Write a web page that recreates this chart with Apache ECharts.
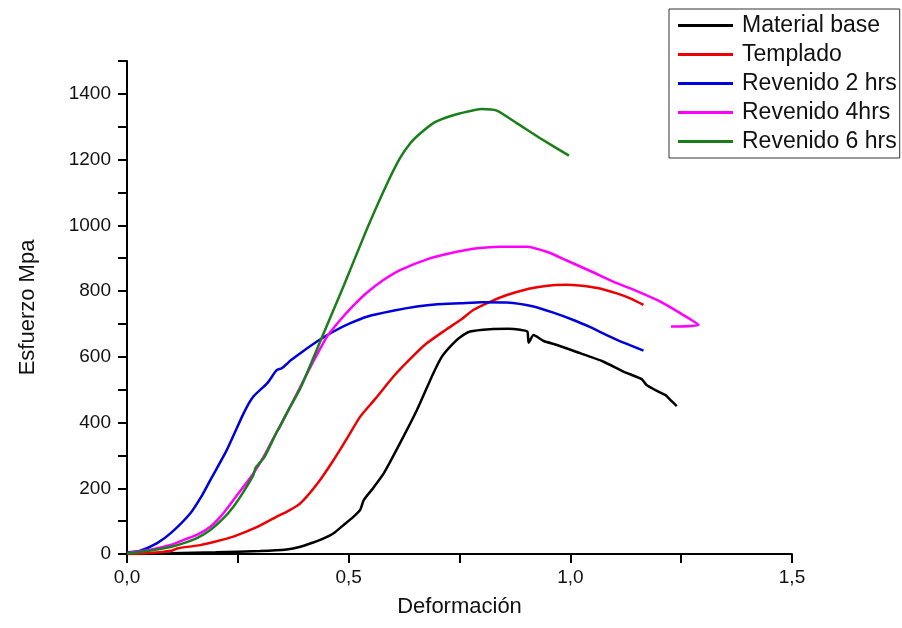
<!DOCTYPE html>
<html>
<head>
<meta charset="utf-8">
<script src="https://cdn.jsdelivr.net/npm/echarts@6/dist/echarts.min.js"></script>
<style>html,body{margin:0;padding:0;background:#fff;}#c{width:902px;height:628px;}</style>
</head>
<body>
<div id="c"></div>
<script>
var seriesNames = ['Material base', 'Templado', 'Revenido 2 hrs', 'Revenido 4hrs', 'Revenido 6 hrs'];

var baseX = [0, 0.1, 0.2, 0.3, 0.36, 0.391, 0.42, 0.44, 0.466, 0.49, 0.51, 0.526, 0.534, 0.555, 0.579, 0.615, 0.654, 0.691, 0.71, 0.729, 0.75, 0.774, 0.819, 0.86, 0.887, 0.903, 0.906, 0.917, 0.94, 0.97, 1.022, 1.075, 1.12, 1.161, 1.172, 1.19, 1.214, 1.225, 1.24];
var baseY = [0, 2, 5, 9, 14, 22, 35, 45, 63, 90, 112, 134, 164, 200, 245, 335, 438, 550, 600, 631, 658, 677, 684, 685, 682, 677, 643, 666, 648, 636, 611, 585, 555, 532, 514, 500, 484, 470, 450];

var templX = [0, 0.05, 0.1, 0.113, 0.165, 0.2, 0.24, 0.29, 0.338, 0.36, 0.391, 0.43, 0.466, 0.5, 0.526, 0.56, 0.601, 0.64, 0.676, 0.72, 0.752, 0.782, 0.82, 0.857, 0.9, 0.932, 0.96, 0.992, 1.02, 1.044, 1.075, 1.105, 1.135, 1.165];
var templY = [0, 3, 10, 17, 27, 38, 53, 80, 114, 128, 154, 215, 286, 360, 418, 472, 540, 595, 641, 683, 712, 743, 768, 788, 805, 813, 818, 819, 817, 813, 805, 793, 778, 758];

var rev2X = [0, 0.03, 0.068, 0.1, 0.143, 0.17, 0.188, 0.225, 0.263, 0.285, 0.316, 0.338, 0.349, 0.37, 0.391, 0.43, 0.466, 0.5, 0.541, 0.6, 0.654, 0.7, 0.752, 0.8, 0.857, 0.917, 0.96, 1.007, 1.045, 1.082, 1.12, 1.165];
var rev2Y = [5, 10, 33, 65, 124, 180, 225, 316, 428, 479, 519, 560, 565, 590, 611, 648, 677, 700, 722, 740, 753, 760, 763, 766, 765, 753, 735, 712, 690, 666, 643, 619];

var rev4X = [0, 0.05, 0.1, 0.128, 0.16, 0.188, 0.215, 0.24, 0.263, 0.285, 0.31, 0.338, 0.365, 0.391, 0.42, 0.451, 0.481, 0.51, 0.541, 0.58, 0.616, 0.68, 0.729, 0.79, 0.842, 0.902, 0.95, 0.992, 1.05, 1.105, 1.15, 1.2, 1.245, 1.289, 1.227];
var rev4Y = [3, 12, 28, 43, 60, 83, 120, 164, 205, 245, 300, 372, 440, 509, 585, 661, 712, 755, 795, 835, 864, 898, 915, 930, 935, 935, 918, 893, 858, 824, 800, 770, 735, 697, 692];

var rev6X = [0, 0.05, 0.1, 0.128, 0.16, 0.188, 0.215, 0.24, 0.263, 0.285, 0.29, 0.31, 0.338, 0.342, 0.365, 0.391, 0.44, 0.49, 0.54, 0.586, 0.616, 0.639, 0.66, 0.691, 0.72, 0.752, 0.8, 0.834, 0.879, 0.932, 0.997];
var rev6Y = [2, 10, 22, 33, 50, 73, 105, 144, 190, 240, 262, 295, 372, 380, 440, 504, 660, 820, 985, 1125, 1205, 1250, 1278, 1311, 1328, 1341, 1354, 1349, 1311, 1265, 1212];

var xTickLabels = ['0,0', '0,5', '1,0', '1,5'];
var yTickLabels = ['0', '200', '400', '600', '800', '1000', '1200', '1400'];

var colors = ['#000000', '#ee0000', '#0000dd', '#ff00ff', '#1a7f1a'];
var xs = [baseX, templX, rev2X, rev4X, rev6X];
var ys = [baseY, templY, rev2Y, rev4Y, rev6Y];

function zip(a, b) { var o = []; for (var i = 0; i < a.length; i++) o.push([a[i], b[i]]); return o; }

var FONT = '"Liberation Sans", Arial, sans-serif';
var series = seriesNames.map(function (n, i) {
  return {
    name: n, type: 'line', data: zip(xs[i], ys[i]), showSymbol: false, symbol: 'none',
    smooth: 0.2, lineStyle: { color: colors[i], width: 2.5 }, itemStyle: { color: colors[i] }
  };
});

var chart = echarts.init(document.getElementById('c'), null, { renderer: 'canvas' });
chart.setOption({
  animation: false,
  backgroundColor: '#ffffff',
  grid: { left: 127, right: 110, top: 61, bottom: 74, containLabel: false },
  legend: {
    data: seriesNames, orient: 'vertical', left: 669, top: 9,
    icon: 'rect', itemWidth: 55, itemHeight: 3, itemGap: 6,
    padding: [5, 3, 5, 9], borderColor: '#333', borderWidth: 1,
    textStyle: { fontFamily: FONT, fontSize: 23, color: '#111', lineHeight: 23, padding: [0, 0, 0, 4] }
  },
  xAxis: {
    type: 'value', min: 0, max: 1.5, interval: 0.25,
    name: 'Deformación', nameLocation: 'middle', nameGap: 42,
    nameTextStyle: { fontFamily: FONT, fontSize: 22, color: '#111' },
    splitLine: { show: false },
    axisLine: { lineStyle: { color: '#000', width: 2 } },
    axisTick: { inside: false, length: 9, lineStyle: { color: '#000', width: 2 } },
    axisLabel: {
      margin: 14, fontFamily: FONT, fontSize: 19, color: '#111',
      formatter: function (v) { var k = Math.round(v / 0.5 * 1000) / 1000; return Number.isInteger(k) ? xTickLabels[k] : ''; }
    }
  },
  yAxis: {
    type: 'value', min: 0, max: 1500, interval: 100,
    name: 'Esfuerzo Mpa', nameLocation: 'middle', nameGap: 88,
    nameTextStyle: { fontFamily: FONT, fontSize: 22, color: '#111' },
    splitLine: { show: false },
    axisLine: { show: true, lineStyle: { color: '#000', width: 2 } },
    axisTick: { show: true, inside: false, length: 9, lineStyle: { color: '#000', width: 2 } },
    axisLabel: {
      margin: 16, fontFamily: FONT, fontSize: 19, color: '#111',
      formatter: function (v) { return (v % 200 === 0) ? yTickLabels[v / 200] : ''; }
    }
  },
  series: series
});
</script>
</body>
</html>
